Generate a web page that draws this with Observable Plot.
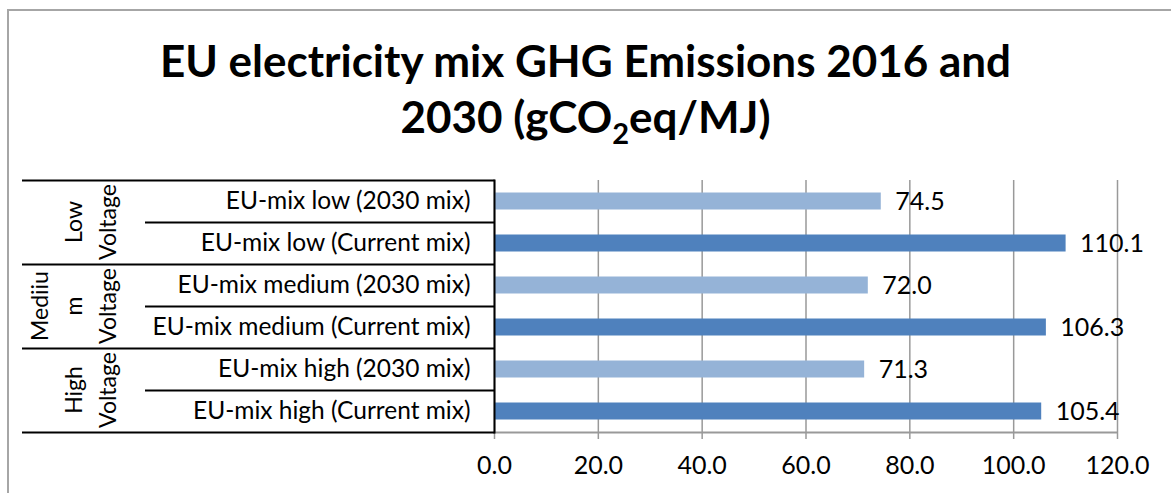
<!DOCTYPE html>
<html><head><meta charset="utf-8">
<script src="https://cdn.jsdelivr.net/npm/d3@7"></script>
<script src="https://cdn.jsdelivr.net/npm/@observablehq/plot@0.6"></script>
<style>
body{margin:0;background:#fff;width:1171px;height:493px;overflow:hidden;position:relative;}
#frame{position:absolute;left:7px;top:9px;width:1200px;height:520px;border:2px solid #a6a6a6;box-sizing:border-box;}
#title{position:absolute;left:0;top:32px;width:1171px;text-align:center;font-family:Lato,sans-serif;font-weight:700;font-size:44px;line-height:56px;color:#000;}
#title .sub{font-size:29px;position:relative;top:11px;}
#chart{position:absolute;left:0;top:170px;}
</style>
</head><body>
<div id="frame"></div>
<div id="title">EU electricity mix GHG Emissions 2016 and<br>2030 (gCO<span class="sub">2</span>eq/MJ)</div>
<div id="chart"></div>
<script>
// ---- data ----
const categories = [
  "EU-mix low (2030 mix)",
  "EU-mix low (Current mix)",
  "EU-mix medium (2030 mix)",
  "EU-mix medium (Current mix)",
  "EU-mix high (2030 mix)",
  "EU-mix high (Current mix)"
];
const values = [74.5, 110.1, 72.0, 106.3, 71.3, 105.4];
const mixes = ["2030", "Current", "2030", "Current", "2030", "Current"];
const groupLines = [["Low", "Voltage"], ["Mediiu", "m", "Voltage"], ["High", "Voltage"]];
const xTicks = [0, 20, 40, 60, 80, 100, 120];
const colors = {"2030": "#95B3D7", "Current": "#4F81BD"};

const data = categories.map((c, i) => ({label: c, value: values[i], mix: mixes[i]}));

const W = 1171, H = 323;
const FONT = "Lato, sans-serif";

function table(index, scales, values_, dimensions) {
  const y = scales.y;
  const step = y(categories[1]) - y(categories[0]);
  const right = dimensions.marginLeft;
  const g = d3.create("svg:g");
  categories.forEach((c, i) => {
    const yy = Math.round(y(c)) + 0.5;
    g.append("line").attr("x1", i % 2 === 0 ? 22 : 145).attr("x2", right + 0.5)
      .attr("y1", yy).attr("y2", yy).attr("stroke", "#000").attr("stroke-width", 2);
  });
  const yEnd = Math.round(y(categories[categories.length - 1]) + step) + 0.5;
  g.append("line").attr("x1", right).attr("x2", dimensions.width - dimensions.marginRight)
    .attr("y1", yEnd).attr("y2", yEnd).attr("stroke", "#999").attr("stroke-width", 2);
  g.append("line").attr("x1", 22).attr("x2", right + 0.5)
    .attr("y1", yEnd).attr("y2", yEnd).attr("stroke", "#000").attr("stroke-width", 2);
  g.append("line").attr("x1", right + 0.5).attr("x2", right + 0.5)
    .attr("y1", Math.round(y(categories[0])) - 0.5).attr("y2", yEnd + 1)
    .attr("stroke", "#000").attr("stroke-width", 2);
  groupLines.forEach((lines, gi) => {
    const cy = y(categories[gi * 2]) + step;
    const n = lines.length;
    lines.forEach((t, li) => {
      const bx = 116 - (n - 1 - li) * 34;
      g.append("text").attr("transform", `translate(${bx},${cy}) rotate(-90)`)
        .attr("text-anchor", "middle").attr("font-family", FONT).attr("font-size", 23)
        .attr("fill", "#000").text(t);
    });
  });
  return g.node();
}

const chart = Plot.plot({
  width: W, height: H,
  marginTop: 10, marginBottom: 61, marginLeft: 494, marginRight: 54,
  style: {fontFamily: FONT, background: "transparent", color: "#000"},
  x: {domain: [0, 120], ticks: xTicks, tickFormat: d3.format(".1f")},
  y: {domain: categories, padding: 0, label: null},
  marks: [
    Plot.gridX(xTicks, {stroke: "#999", strokeOpacity: 1, strokeWidth: 1.5}),
    Plot.barX(data, {x: "value", y: "label", fill: d => colors[d.mix], insetTop: 12.5, insetBottom: 12.5}),
    Plot.text(data, {x: "value", y: "label", text: d => d.value.toFixed(1), dx: 14, textAnchor: "start", fontSize: 25, fill: "#000"}),
    Plot.axisX(xTicks, {tickSize: 7, tickPadding: 17, stroke: "#999", strokeWidth: 1.5, fill: "#000", fontSize: 25, label: null, tickFormat: d3.format(".1f")}),
    Plot.axisY({tickSize: 0, tickPadding: 24, fontSize: 24.5, fill: "#000", label: null}),
    table
  ]
});
document.getElementById("chart").appendChild(chart);
</script>
</body></html>
